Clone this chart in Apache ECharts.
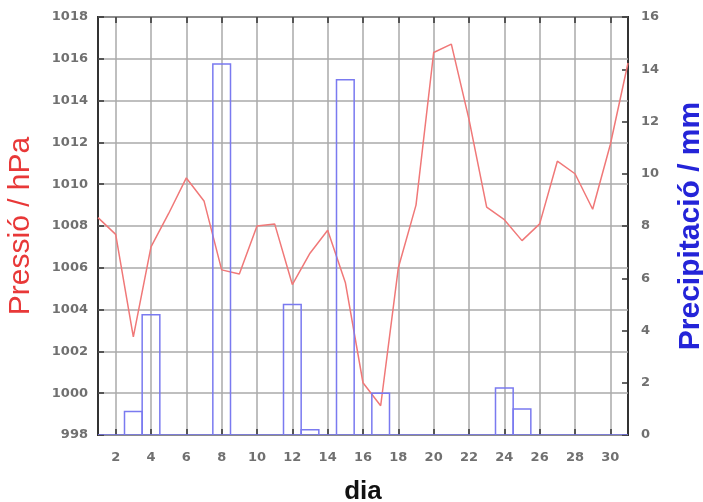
<!DOCTYPE html>
<html>
<head>
    <meta charset="utf-8">
    <title>Pressió i precipitació</title>
    <script type="text/javascript" src="https://cdn.jsdelivr.net/npm/echarts@6/dist/echarts.min.js"></script>
    <style>
        html, body { margin: 0; padding: 0; background: #fff; }
    </style>
</head>
<body>
<div id="main" style="width: 703px;height:502px;"></div>
<script type="text/javascript">
    // dies del mes
    var dies = [1, 2, 3, 4, 5, 6, 7, 8, 9, 10, 11, 12, 13, 14, 15, 16,
        17, 18, 19, 20, 21, 22, 23, 24, 25, 26, 27, 28, 29, 30, 31];
    // pressió (hPa)
    var pressio = [1008.4, 1007.6, 1002.7, 1007.0, 1008.6, 1010.3, 1009.2, 1005.9, 1005.7, 1008.0,
        1008.1, 1005.2, 1006.7, 1007.8, 1005.3, 1000.5, 999.4, 1006.0, 1009.0, 1016.3,
        1016.7, 1013.1, 1008.9, 1008.3, 1007.3, 1008.1, 1011.1, 1010.5, 1008.8, 1011.9, 1015.8];
    // precipitació (mm)
    var precipitacio = [0, 0, 0.9, 4.6, 0, 0, 0, 14.2, 0, 0,
        0, 5.0, 0.2, 0, 13.6, 0, 1.6, 0, 0, 0,
        0, 0, 0, 1.8, 1.0, 0, 0, 0, 0, 0, 0];
    // marques de l'eix x
    var marquesDia = [2, 4, 6, 8, 10, 12, 14, 16, 18, 20, 22, 24, 26, 28, 30];

    var labelStyle = {
        color: '#707070',
        fontFamily: 'DejaVu Sans',
        fontWeight: 'bold',
        fontSize: 13,
        formatter: function (v) { return String(v); }
    };

    var myChart = echarts.init(document.getElementById('main'));
    var option = {
        animation: false,
        backgroundColor: '#fff',
        grid: {
            left: 98, right: 75, top: 17, bottom: 67,
            outerBoundsMode: 'none',
            containLabel: false,
            show: true,
            borderColor: '#333',
            borderWidth: 2,
            backgroundColor: '#fff'
        },
        xAxis: [{
            type: 'value',
            min: 1,
            max: 31,
            position: 'bottom',
            name: 'dia',
            nameLocation: 'middle',
            nameGap: 44,
            nameTextStyle: {color: '#111', fontFamily: 'Liberation Sans', fontWeight: 'bold', fontSize: 26},
            axisLine: {show: false},
            axisTick: {show: true, inside: true, length: 6, customValues: marquesDia,
                lineStyle: {color: '#333', width: 1.5}},
            axisLabel: Object.assign({customValues: marquesDia, margin: 16}, labelStyle),
            splitLine: {show: true, lineStyle: {color: '#aaa', width: 1.5}}
        }, {
            type: 'value',
            min: 1,
            max: 31,
            position: 'top',
            axisLine: {show: false},
            axisTick: {show: true, inside: true, length: 6, customValues: marquesDia,
                lineStyle: {color: '#333', width: 1.5}},
            axisLabel: {show: false},
            splitLine: {show: false}
        }],
        yAxis: [{
            type: 'value',
            min: 998,
            max: 1018,
            interval: 2,
            position: 'left',
            name: 'Pressió / hPa',
            nameLocation: 'middle',
            nameRotate: 90,
            nameGap: 62,
            nameTextStyle: {color: '#e83838', fontFamily: 'Liberation Sans', fontSize: 30},
            axisLine: {show: false},
            axisTick: {show: true, inside: true, length: 6, lineStyle: {color: '#333', width: 1.5}},
            axisLabel: Object.assign({margin: 10}, labelStyle),
            splitLine: {show: true, lineStyle: {color: '#aaa', width: 1.5}}
        }, {
            type: 'value',
            min: 0,
            max: 16,
            interval: 2,
            position: 'right',
            name: 'Precipitació / mm',
            nameLocation: 'middle',
            nameRotate: 90,
            nameGap: 48,
            nameTextStyle: {color: '#2424d8', fontFamily: 'Liberation Sans', fontWeight: 'bold', fontSize: 30},
            axisLine: {show: false},
            axisTick: {show: true, inside: true, length: 6, lineStyle: {color: '#333', width: 1.5}},
            axisLabel: Object.assign({margin: 13}, labelStyle),
            splitLine: {show: false}
        }],
        series: [{
            // caixes sense farcit, d'amplada un dia (també les de 0 mm)
            type: 'custom',
            name: 'Precipitació',
            xAxisIndex: 0,
            yAxisIndex: 1,
            clip: true,
            z: 3,
            data: dies.map(function (d, i) { return [d, precipitacio[i]]; }),
            renderItem: function (params, api) {
                var d = api.value(0);
                var p0 = api.coord([d - 0.5, api.value(1)]);
                var p1 = api.coord([d + 0.5, 0]);
                return {
                    type: 'rect',
                    shape: {x: p0[0], y: p0[1], width: p1[0] - p0[0], height: p1[1] - p0[1]},
                    style: {fill: null, stroke: '#7a7af0', lineWidth: 1.5}
                };
            }
        }, {
            type: 'line',
            name: 'Pressió',
            xAxisIndex: 0,
            yAxisIndex: 0,
            symbol: 'none',
            z: 2,
            data: dies.map(function (d, i) { return [d, pressio[i]]; }),
            lineStyle: {color: '#f07878', width: 1.5}
        }]
    };
    myChart.setOption(option);
</script>
</body>
</html>
